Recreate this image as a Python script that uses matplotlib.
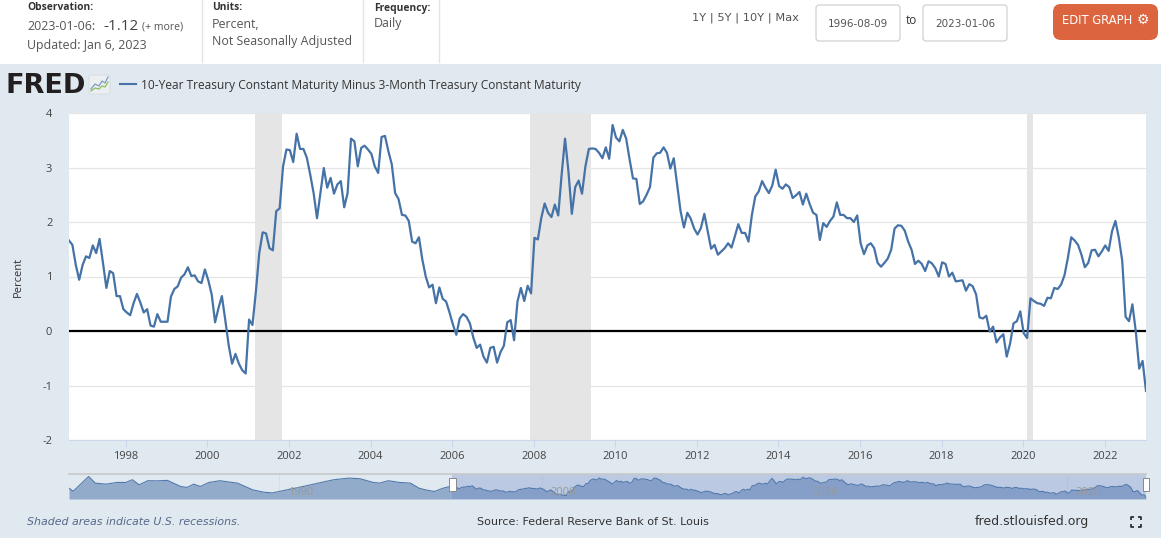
import matplotlib
matplotlib.use("Agg")
import matplotlib.pyplot as plt
import matplotlib.dates as mdates
from matplotlib.patches import Rectangle, FancyBboxPatch
import numpy as np
import pandas as pd

# ---------------- data ----------------
start_date = "1996-08-09"
end_date = "2023-01-06"
series_name = "10-Year Treasury Constant Maturity Minus 3-Month Treasury Constant Maturity"

values_1996_2003 = [
    1.66, 1.58, 1.21, 0.94, 1.21, 1.37, 1.34, 1.57, 1.43, 1.69,
    1.25, 0.79, 1.10, 1.06, 0.64, 0.64, 0.40, 0.34, 0.29, 0.51,
    0.68, 0.52, 0.34, 0.40, 0.10, 0.08, 0.31, 0.17, 0.17, 0.17,
    0.63, 0.77, 0.82, 0.98, 1.04, 1.17, 1.01, 1.02, 0.91, 0.88,
    1.13, 0.93, 0.67, 0.16, 0.42, 0.64, 0.20, -0.26, -0.60, -0.42,
    -0.60, -0.72, -0.78, 0.21, 0.11, 0.72, 1.43, 1.81, 1.79, 1.52,
    1.48, 2.20, 2.25, 3.02, 3.33, 3.32, 3.10, 3.62, 3.34, 3.34,
    3.18, 2.87, 2.53, 2.07, 2.53, 2.99, 2.63, 2.81, 2.52, 2.69,
    2.75,
]
values_2003_2009 = [
    2.27, 2.53, 3.53, 3.48, 3.02, 3.36, 3.40, 3.33, 3.25, 3.02,
    2.90, 3.56, 3.58, 3.30, 3.06, 2.53, 2.42, 2.13, 2.12, 2.02,
    1.64, 1.61, 1.72, 1.31, 1.00, 0.80, 0.85, 0.51, 0.80, 0.59,
    0.54, 0.34, 0.12, -0.07, 0.23, 0.31, 0.26, 0.14, -0.12, -0.31,
    -0.25, -0.47, -0.58, -0.31, -0.29, -0.58, -0.39, -0.27, 0.16, 0.20,
    -0.17, 0.54, 0.79, 0.55, 0.83, 0.69, 1.71, 1.68, 2.07, 2.34,
    2.17, 2.09, 2.32, 2.12, 2.87, 3.53, 2.93, 2.15, 2.64, 2.76,
    2.52, 3.02, 3.34, 3.35, 3.34, 3.27, 3.17, 3.37, 3.16, 3.78,
]
values_2010_2016 = [
    3.55, 3.48, 3.69, 3.53, 3.15, 2.80, 2.79, 2.33, 2.38, 2.50,
    2.64, 3.18, 3.26, 3.27, 3.37, 3.27, 2.98, 3.17, 2.69, 2.20,
    1.90, 2.17, 2.06, 1.88, 1.77, 1.89, 2.15, 1.83, 1.51, 1.58,
    1.40, 1.46, 1.52, 1.61, 1.53, 1.74, 1.96, 1.80, 1.80, 1.64,
    2.13, 2.47, 2.56, 2.75, 2.63, 2.53, 2.67, 2.96, 2.66, 2.61,
    2.69, 2.64, 2.44, 2.49, 2.55, 2.32, 2.52, 2.33, 2.17, 2.13,
    1.67, 1.98, 1.91, 2.02, 2.10, 2.36, 2.13, 2.13, 2.07, 2.07,
    2.00, 2.12, 1.61, 1.41, 1.57, 1.61, 1.52, 1.25, 1.18,
]
values_2016_2023 = [
    1.25, 1.33, 1.49, 1.88, 1.94, 1.93, 1.84, 1.64, 1.49, 1.23,
    1.29, 1.23, 1.10, 1.28, 1.24, 1.15, 1.00, 1.26, 1.23, 1.00,
    1.07, 0.91, 0.92, 0.93, 0.74, 0.86, 0.82, 0.67, 0.25, 0.23,
    0.28, -0.01, 0.08, -0.21, -0.12, -0.06, -0.47, -0.23, 0.14, 0.18,
    0.36, -0.04, -0.13, 0.60, 0.55, 0.51, 0.50, 0.46, 0.61, 0.60,
    0.79, 0.77, 0.85, 1.02, 1.34, 1.72, 1.66, 1.58, 1.40, 1.17,
    1.25, 1.48, 1.49, 1.37, 1.46, 1.57, 1.47, 1.83, 2.02, 1.71,
    1.29, 0.26, 0.18, 0.49, -0.01, -0.69, -0.55, -1.10,
]
values = values_1996_2003 + values_2003_2009 + values_2010_2016 + values_2016_2023

# earlier history shown only in the navigator (1982-1996)
nav_early_dates = ["1982-01", "1982-03", "1982-10", "1983-01", "1983-06", "1983-11",
                   "1984-03", "1984-06", "1984-09", "1985-01", "1985-05", "1985-10",
                   "1986-04", "1986-07", "1986-10", "1987-01", "1987-05", "1987-10",
                   "1988-01", "1988-06", "1989-01", "1989-06", "1989-10", "1990-01",
                   "1990-12", "1991-07", "1992-02", "1992-09", "1993-02", "1993-08",
                   "1993-11", "1994-03", "1994-08", "1995-01", "1995-05", "1995-08",
                   "1995-12", "1996-04", "1996-07"]
nav_early_values = [1.07, 0.30, 4.00, 2.34, 2.08, 2.51,
                    2.50, 3.19, 1.91, 2.94, 2.90, 3.02,
                    1.50, 1.25, 2.08, 1.50, 2.50, 2.94,
                    2.70, 2.34, 0.64, 0.06, -0.12, 0.24,
                    1.50, 2.34, 3.19, 3.60, 3.43, 2.51,
                    2.34, 2.94, 2.51, 2.34, 1.07, 0.64,
                    0.24, 1.07, 1.50]

recessions = [("2001-03-01", "2001-11-01"), ("2007-12-01", "2009-06-01"), ("2020-02-01", "2020-04-01")]
y_ticks = [-2, -1, 0, 1, 2, 3, 4]
x_tick_years = list(range(1998, 2023, 2))
nav_tick_years = [1990, 2000, 2010, 2020]

dates = pd.date_range(start_date, end_date, periods=len(values))
nav_dates = list(pd.to_datetime(nav_early_dates)) + list(dates)
nav_values = nav_early_values + values

# ---------------- style ----------------
plt.rcParams["font.family"] = ["Open Sans", "DejaVu Sans"]
BLUE = "#4572a7"
BG = "#e1e9f0"
W, H = 1161, 538
NARROW = ["Liberation Sans Narrow", "DejaVu Sans"]


def frac(x0, y0, x1, y1):
    return [x0 / W, 1 - y1 / H, (x1 - x0) / W, (y1 - y0) / H]


fig = plt.figure(figsize=(W / 100, H / 100), dpi=100, facecolor=BG)

# background / decoration layer in pixel coordinates
bg = fig.add_axes([0, 0, 1, 1], zorder=0)
bg.set_xlim(0, W)
bg.set_ylim(H, 0)
bg.axis("off")
bg.add_patch(Rectangle((0, 0), W, 64, facecolor="white", edgecolor="none"))
for xd in (202, 363, 439):
    bg.plot([xd, xd], [0, 62], color="#e4e4e4", lw=1)

hdr = dict(fontsize=8.9, va="center", ha="left", color="#555555")
lbl = dict(fontsize=7.4, va="center", ha="left", color="#333333", fontweight="bold")
bg.text(27, 8, "Observation:", **lbl)
bg.text(27, 27, "2023-01-06:", **hdr)
bg.text(103, 26, "-1.12", color="#444444", fontsize=11, va="center", ha="left")
bg.text(142, 27, "(+ more)", color="#555555", fontsize=7.6, va="center", ha="left")
bg.text(27, 45, "Updated: Jan 6, 2023", **hdr)
bg.text(212, 8, "Units:", **lbl)
bg.text(212, 25, "Percent,", **hdr)
bg.text(212, 42, "Not Seasonally Adjusted", **hdr)
bg.text(374, 8, "Frequency:", **lbl)
bg.text(374, 23, "Daily", **hdr)

bg.text(692, 18, "1Y | 5Y | 10Y | Max", color="#555555", fontsize=8.2,
        va="center", ha="left", family=NARROW)
for (bx0, bx1, label) in ((816, 900, "1996-08-09"), (923, 1007, "2023-01-06")):
    bg.add_patch(FancyBboxPatch((bx0, 5), bx1 - bx0, 36, boxstyle="round,pad=0,rounding_size=3",
                                facecolor="white", edgecolor="#cccccc", lw=0.8))
    bg.text((bx0 + bx1) / 2, 24, label, color="#555555", fontsize=7.5, va="center", ha="center",
            family=NARROW)
bg.text(906, 21, "to", color="#333333", fontsize=8.5, va="center", ha="left")
bg.add_patch(FancyBboxPatch((1053, 4), 105, 36, boxstyle="round,pad=0,rounding_size=8",
                            facecolor="#dc6540", edgecolor="none"))
bg.text(1062, 20, "EDIT GRAPH", color="white", fontsize=8.3, va="center", ha="left", family=NARROW)
bg.text(1143, 20, "\u2699", color="white", fontsize=10, va="center", ha="center", family="DejaVu Sans")

# FRED logo + legend
bg.text(6, 86, "FRED", color="#231f20", fontsize=19.5, fontweight="heavy", va="center", ha="left",
        family="DejaVu Sans")
bg.add_patch(FancyBboxPatch((89, 75), 21, 19, boxstyle="round,pad=0,rounding_size=2",
                            facecolor="#eceff2", edgecolor="#d5dadf", lw=0.6))
bg.plot([91, 95, 99, 102, 105, 108], [89, 84, 86, 81, 83, 77], color="#7c9cc2", lw=0.9)
bg.plot([91, 95, 99, 102, 105, 108], [91, 88, 89, 86, 87, 82], color="#8fbf5a", lw=0.9)
bg.plot([120, 136], [84, 84], color=BLUE, lw=1.5)
bg.text(141, 85, series_name, color="#333333", fontsize=8.6, va="center", ha="left")

# y label
bg.text(18, 277, "Percent", color="#333333", fontsize=8, rotation=90, va="center", ha="center")

# footer
bg.text(27, 522, "Shaded areas indicate U.S. recessions.", color="#56688a", fontsize=7.9,
        fontstyle="italic", va="center", ha="left", family=NARROW)
bg.text(477, 522, "Source: Federal Reserve Bank of St. Louis", color="#333333", fontsize=8.0,
        va="center", ha="left", family=NARROW)
bg.text(975, 522, "fred.stlouisfed.org", color="#333333", fontsize=9.0,
        va="center", ha="left", family=NARROW)
for (cx, cy, dx, dy) in ((1131, 517, 1, 1), (1141, 517, -1, 1), (1131, 527, 1, -1), (1141, 527, -1, -1)):
    bg.plot([cx, cx, cx + 3 * dx], [cy + 3 * dy, cy, cy], color="#222222", lw=1.2, solid_capstyle="butt")

# ---------------- main chart ----------------
ax = fig.add_axes(frac(69, 113, 1146, 440), zorder=1)
ax.set_facecolor("white")
for a, b in recessions:
    ax.axvspan(pd.Timestamp(a), pd.Timestamp(b), color="#e5e5e5", lw=0, zorder=1)
ax.axhline(0, color="black", lw=1.6, zorder=2)
ax.plot(dates, values, color=BLUE, lw=1.6, zorder=3, solid_joinstyle="round")

ax.set_xlim(pd.Timestamp(start_date), pd.Timestamp(end_date))
ax.set_ylim(-2, 4)
ax.set_yticks(y_ticks)
ax.set_yticklabels([str(v) for v in y_ticks])
ax.yaxis.grid(True, color="#e6e6e6", lw=0.9)
ax.set_axisbelow(True)
ax.set_xticks([pd.Timestamp(f"{y}-01-01") for y in x_tick_years])
ax.set_xticklabels([str(y) for y in x_tick_years])
ax.tick_params(axis="y", length=0, pad=12, labelsize=8, labelcolor="#444444")
ax.tick_params(axis="x", length=5, width=0.8, color="#ccd6eb", pad=3, labelsize=8, labelcolor="#444444")
for s in ("top", "left", "right"):
    ax.spines[s].set_visible(False)
ax.spines["bottom"].set_color("#ccd6eb")
ax.spines["bottom"].set_linewidth(0.8)

# ---------------- navigator ----------------
nav = fig.add_axes(frac(69, 474, 1146, 499), zorder=1)
nav.set_facecolor(BG)
nav_lo = -1.64
nav.fill_between(nav_dates, nav_values, nav_lo, color="#93abcb", lw=0)
nav.plot(nav_dates, nav_values, color="#5179ac", lw=0.8)
nav.set_xlim(pd.Timestamp("1982-01-01"), pd.Timestamp(end_date))
nav.set_ylim(nav_lo, 4.62)
nav.axvspan(pd.Timestamp(start_date), pd.Timestamp(end_date), color=(102 / 255, 133 / 255, 194 / 255),
            alpha=0.3, lw=0)
for yv in nav_tick_years:
    t = pd.Timestamp(f"{yv}-01-01")
    nav.axvline(t, color="#d6dde6", lw=0.6, zorder=0.5)
    nav.text(t + pd.Timedelta(days=120), 0.0, str(yv), color="#999999", fontsize=8,
             va="center", ha="left", zorder=5)
nav.set_xticks([])
nav.set_yticks([])
for s in ("left", "right", "bottom"):
    nav.spines[s].set_visible(False)
nav.spines["top"].set_color("#c8c8c8")
nav.spines["top"].set_linewidth(1.2)
for t in (pd.Timestamp(start_date), pd.Timestamp(end_date)):
    nav.add_patch(Rectangle((mdates.date2num(t) - 45, 0.4), 90, 3.2,
                            facecolor="white", edgecolor="#888888", lw=0.7, zorder=6, clip_on=False))

fig.savefig("out.png", dpi=100, facecolor=BG)
